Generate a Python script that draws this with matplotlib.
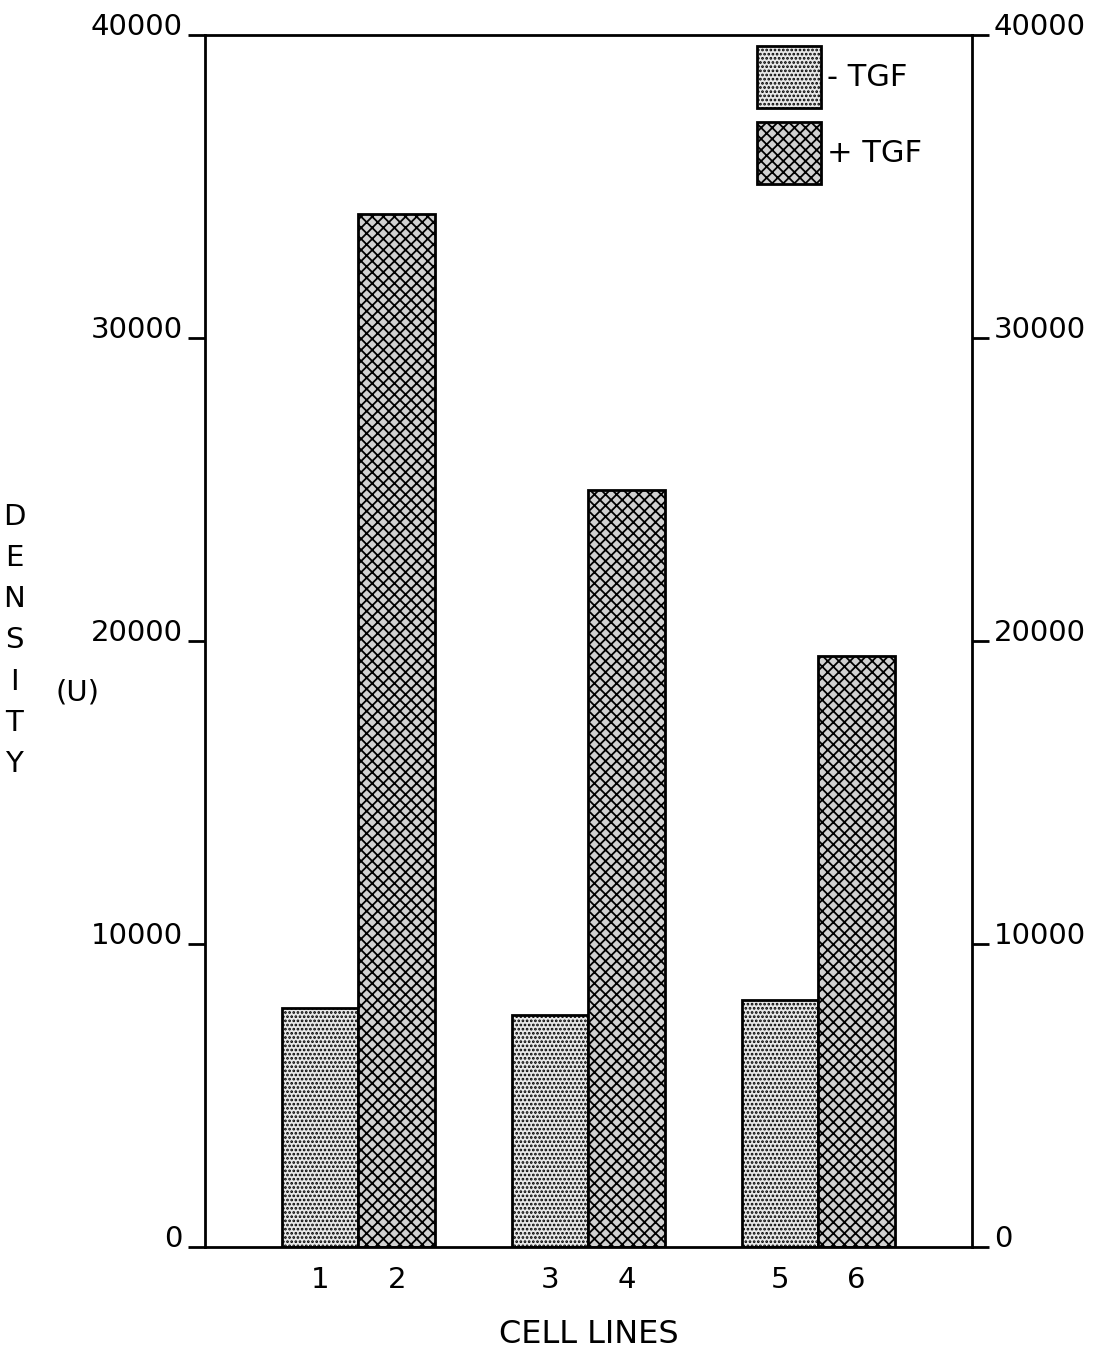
import numpy as np
import matplotlib
matplotlib.use("Agg")
import matplotlib.pyplot as plt
from matplotlib.patches import Patch

# values
cell_lines = ["1", "2", "3", "4", "5", "6"]
minus_tgf = [7900, 7650, 8150]      # cell lines 1, 3, 5
plus_tgf = [34100, 25000, 19500]    # cell lines 2, 4, 6
y_ticks = [0, 10000, 20000, 30000, 40000]

plt.rcParams['font.family'] = 'DejaVu Sans'
plt.rcParams['hatch.linewidth'] = 1.3
plt.rcParams['hatch.color'] = 'black'

fig = plt.figure(figsize=(11.08, 13.48), dpi=100)
ax = fig.add_axes([0.185, 0.0749, 0.692, 0.899])

# group centres, each group has a pair of bars side by side
centres = np.array([2, 5, 8])
w = 1.0
ax.bar(centres - w / 2, minus_tgf, width=w, color='#e8e8e8', edgecolor='black',
       linewidth=2, hatch='....')
ax.bar(centres + w / 2, plus_tgf, width=w, color='#d0d0d0', edgecolor='black',
       linewidth=2, hatch='xxx')

ax.set_xlim(0, 10)
ax.set_ylim(0, 40000)

xpos = np.column_stack([centres - w / 2, centres + w / 2]).ravel()
ax.set_xticks(xpos)
ax.set_xticklabels(cell_lines, fontsize=21)
ax.tick_params(axis='x', length=0, pad=14)
ax.set_xlabel("CELL LINES", fontsize=23, labelpad=18)

ax.set_yticks(y_ticks)
ax.set_yticklabels([str(v) for v in y_ticks], fontsize=21)
ax.tick_params(axis='y', direction='out', length=12, width=2, pad=4,
               right=True, labelright=True)
for t in ax.yaxis.get_major_ticks():
    t.label1.set_verticalalignment('baseline')
    t.label2.set_verticalalignment('baseline')

for s in ax.spines.values():
    s.set_linewidth(2)

# vertical axis title
fig.text(0.013, 0.525, "D\nE\nN\nS\nI\nT\nY", fontsize=21, ha='center',
         va='center', linespacing=1.6)
fig.text(0.07, 0.486, "(U)", fontsize=21, ha='center', va='center')

handles = [Patch(facecolor='#e8e8e8', edgecolor='black', linewidth=2, hatch='....'),
           Patch(facecolor='#d0d0d0', edgecolor='black', linewidth=2, hatch='xxx')]
ax.legend(handles, ["- TGF", "+ TGF"], loc='upper left',
          bbox_to_anchor=(0.72, 0.991), frameon=False, fontsize=22,
          handlelength=2.1, handleheight=2.75, handletextpad=0.2,
          labelspacing=0.45, borderaxespad=0, borderpad=0)

fig.savefig("out.png", dpi=100)
